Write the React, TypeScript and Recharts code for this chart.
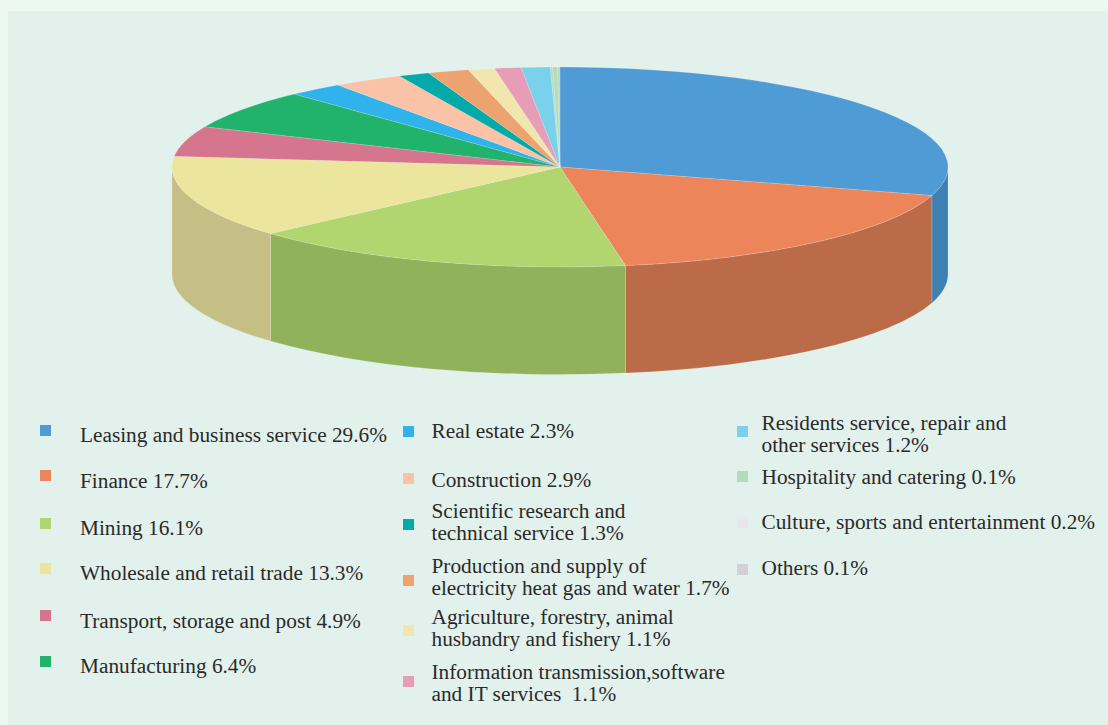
import React from 'react';
import { PieChart, Pie, Legend } from 'recharts';

const categories = [
  'Leasing and business service',
  'Finance',
  'Mining',
  'Wholesale and retail trade',
  'Transport, storage and post',
  'Manufacturing',
  'Real estate',
  'Construction',
  'Scientific research and\ntechnical service',
  'Production and supply of\nelectricity heat gas and water',
  'Agriculture, forestry, animal\nhusbandry and fishery',
  'Information transmission,software\nand IT services ',
  'Residents service, repair and\nother services',
  'Hospitality and catering',
  'Culture, sports and entertainment',
  'Others',
];
const shares = [29.6, 17.7, 16.1, 13.3, 4.9, 6.4, 2.3, 2.9, 1.3, 1.7, 1.1, 1.1, 1.2, 0.1, 0.2, 0.1];
const swatchColors = [
  '#4e9bd5', '#ec8559', '#b1d56f', '#ece59d', '#d5758e', '#21b36b', '#2fb3ea', '#fac3a8',
  '#04aaa9', '#eda370', '#f1e6ad', '#e79db8', '#7ad1ec', '#b4dbbe', '#e8e8ec', '#d2d2d6',
];
// In the picture the last three tiny slices all read as the pale green wedge.
const sliceColors = [
  '#4e9bd5', '#ec8559', '#b1d56f', '#ece59d', '#d5758e', '#21b36b', '#2fb3ea', '#fac3a8',
  '#04aaa9', '#eda370', '#f1e6ad', '#e79db8', '#7ad1ec', '#b4dbbe', '#b4dbbe', '#b4dbbe',
];
const wallColors: Record<string, string> = {
  '#4e9bd5': '#3f80b2',
  '#ec8559': '#bc6b48',
  '#b1d56f': '#8fb25b',
  '#ece59d': '#c5bf85',
};

const tableData = categories.map((name, i) => ({ name, value: shares[i], fill: sliceColors[i] }));

const OFFSET_X = 8;
const OFFSET_Y = 11;
const WIDTH = 1100;
const HEIGHT = 714;
const FLATTEN = 100 / 388;
const DEPTH = 107.5;

// Legend layout in page coordinates: swatch x, swatch y, text x, first baseline
const legendLayout: [number, number, number, number][] = [
  [40, 425, 80, 442],
  [40, 470, 80, 488],
  [40, 518, 80, 535],
  [40, 563, 80, 580],
  [40, 610, 80, 628],
  [40, 656, 80, 673],
  [403, 426, 431.5, 438],
  [403, 473, 431.5, 487],
  [403, 519, 431.5, 518],
  [403, 575, 431.5, 573],
  [403, 625, 431.5, 624],
  [403, 676, 431.5, 679],
  [737, 426, 761.5, 430],
  [737, 471, 761.5, 484],
  [737, 517, 761.5, 529],
  [737, 564, 761.5, 575],
];

function Slice3D(props: any) {
  const { cx, cy, outerRadius, startAngle, endAngle, fill } = props;
  const rx = outerRadius;
  const ry = outerRadius * FLATTEN;
  const t0 = -startAngle;
  const t1 = -endAngle;
  const pt = (deg: number, dy = 0) => {
    const r = (deg * Math.PI) / 180;
    return `${cx + rx * Math.cos(r)} ${cy + dy + ry * Math.sin(r)}`;
  };
  const large = t1 - t0 > 180 ? 1 : 0;
  const top = `M ${cx} ${cy} L ${pt(t0)} A ${rx} ${ry} 0 ${large} 1 ${pt(t1)} Z`;
  const w0 = Math.max(t0, 0);
  const w1 = Math.min(t1, 180);
  const hasWall = w1 > w0;
  const wall = hasWall
    ? `M ${pt(w0)} A ${rx} ${ry} 0 0 1 ${pt(w1)} L ${pt(w1, DEPTH)} A ${rx} ${ry} 0 0 0 ${pt(w0, DEPTH)} Z`
    : '';
  return (
    <g>
      {hasWall && <path d={wall} fill={wallColors[fill] || fill} stroke="#ffffff" strokeOpacity={0.25} strokeWidth={0.6} />}
      <path d={top} fill={fill} stroke="#ffffff" strokeOpacity={0.25} strokeWidth={0.6} />
    </g>
  );
}

function LegendBlock({ payload }: any) {
  return (
    <svg width={WIDTH} height={HEIGHT} style={{ display: 'block' }}>
      {(payload || []).map((entry: any, i: number) => {
        const [sx, sy, tx, ty] = legendLayout[i];
        const lines = `${entry.value} ${shares[i].toFixed(1)}%`.split('\n');
        return (
          <g key={i}>
            <rect x={sx - OFFSET_X} y={sy - OFFSET_Y} width={11} height={11} fill={swatchColors[i]} />
            <text
              x={tx - OFFSET_X}
              y={ty - OFFSET_Y}
              fontFamily="'Liberation Serif', serif"
              fontSize={21.3}
              fill="#2a2a2a"
              style={{ whiteSpace: 'pre' }}
            >
              {lines.map((l, k) => (
                <tspan key={k} x={tx - OFFSET_X} dy={k === 0 ? 0 : 21.5}>
                  {l}
                </tspan>
              ))}
            </text>
          </g>
        );
      })}
    </svg>
  );
}

export default function App() {
  return (
    <div style={{ position: 'absolute', left: 0, top: 0, width: 1108, height: 725, background: '#eef8f3', overflow: 'hidden' }}>
      <div style={{ position: 'absolute', left: OFFSET_X, top: OFFSET_Y, width: WIDTH, height: HEIGHT, background: '#e2f1ec' }}>
        <PieChart width={WIDTH} height={HEIGHT} margin={{ top: 0, right: 0, bottom: 0, left: 0 }}>
          <Pie
            data={tableData}
            dataKey="value"
            nameKey="name"
            cx={560 - OFFSET_X}
            cy={167 - OFFSET_Y}
            outerRadius={388}
            startAngle={90}
            endAngle={-270}
            shape={Slice3D}
            isAnimationActive={false}
            label={false}
            labelLine={false}
          />
          <Legend
            itemSorter={null}
            content={<LegendBlock />}
            wrapperStyle={{ position: 'absolute', left: 0, top: 0, width: WIDTH, height: HEIGHT, pointerEvents: 'none' }}
          />
        </PieChart>
      </div>
    </div>
  );
}
